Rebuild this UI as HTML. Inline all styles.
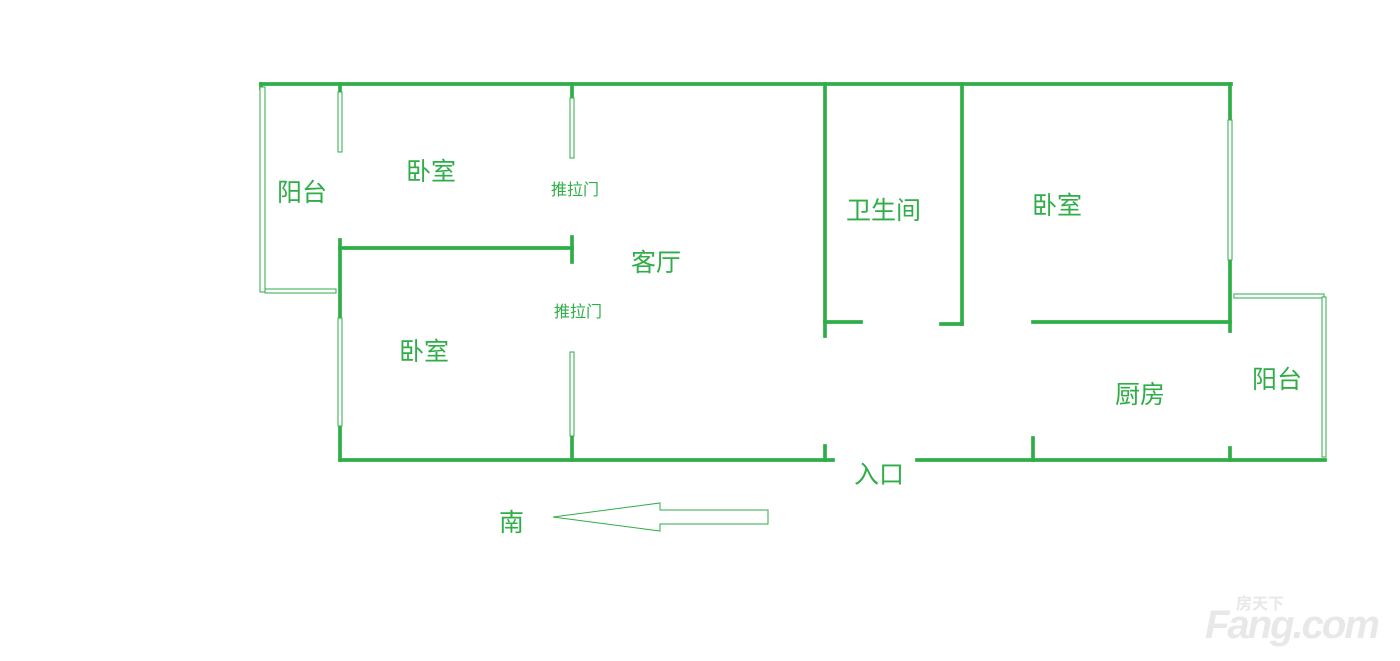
<!DOCTYPE html>
<html><head><meta charset="utf-8"><style>
html,body{margin:0;padding:0;background:#fff;}
svg{display:block}
text{font-family:"Liberation Sans","Noto Sans CJK SC",sans-serif;fill:#2fae48;}
</style></head><body>
<svg width="1400" height="661" viewBox="0 0 1400 661" xmlns="http://www.w3.org/2000/svg">
<g stroke="#2fae48" stroke-width="3.7" fill="none" stroke-linecap="square">
<line x1="261" y1="84" x2="1231" y2="84"/>
<line x1="340" y1="84" x2="340" y2="94"/>
<line x1="572" y1="84" x2="572" y2="98"/>
<line x1="340" y1="248" x2="572" y2="248"/>
<line x1="572" y1="237" x2="572" y2="262"/>
<line x1="340" y1="240" x2="340" y2="318"/>
<line x1="340" y1="426" x2="340" y2="460"/>
<line x1="340" y1="460" x2="833" y2="460"/>
<line x1="572" y1="436" x2="572" y2="460"/>
<line x1="825" y1="446" x2="825" y2="460"/>
<line x1="917" y1="460" x2="1325" y2="460"/>
<line x1="1033" y1="438" x2="1033" y2="460"/>
<line x1="1230" y1="448" x2="1230" y2="460"/>
<line x1="825" y1="84" x2="825" y2="336"/>
<line x1="825" y1="322" x2="861" y2="322"/>
<line x1="962" y1="84" x2="962" y2="324"/>
<line x1="941" y1="324" x2="962" y2="324"/>
<line x1="1033" y1="322" x2="1230" y2="322"/>
<line x1="1230" y1="84" x2="1230" y2="120"/>
<line x1="1230" y1="260" x2="1230" y2="331"/>
<line x1="261" y1="84" x2="261" y2="88"/>
</g>
<g stroke="#2fae48" stroke-width="1" fill="#fff">
<rect x="260" y="87" width="5" height="205"/>
<rect x="265" y="289" width="71" height="4"/>
<rect x="338" y="92" width="4" height="60"/>
<rect x="570" y="98" width="4" height="60"/>
<rect x="338" y="318" width="4" height="108"/>
<rect x="570" y="352" width="4" height="84"/>
<rect x="1228" y="120" width="4" height="140"/>
<rect x="1234" y="294" width="90" height="4"/>
<rect x="1322" y="297" width="4" height="160"/>
</g>
<polygon points="553,517 660,503 660,510 768,510 768,524 660,524 660,531" fill="none" stroke="#2fae48" stroke-width="1"/>
<text x="277" y="201" font-size="25">阳台</text>
<text x="406" y="180" font-size="25">卧室</text>
<text x="551" y="195" font-size="16">推拉门</text>
<text x="631" y="271" font-size="25">客厅</text>
<text x="554" y="317" font-size="16">推拉门</text>
<text x="399" y="360" font-size="25">卧室</text>
<text x="846" y="219" font-size="25">卫生间</text>
<text x="1032" y="214" font-size="25">卧室</text>
<text x="1115" y="403" font-size="25">厨房</text>
<text x="1252" y="388" font-size="25">阳台</text>
<text x="854" y="483" font-size="25">入口</text>
<text x="499" y="531" font-size="25">南</text>
<text x="1205" y="638" font-size="40" font-weight="bold" font-style="italic" style="fill:#e8e8e8;letter-spacing:-2px">Fang.com</text>
<text x="1236" y="609" font-size="16" font-weight="bold" style="fill:#e8e8e8">房天下</text>
</svg>
</body></html>
